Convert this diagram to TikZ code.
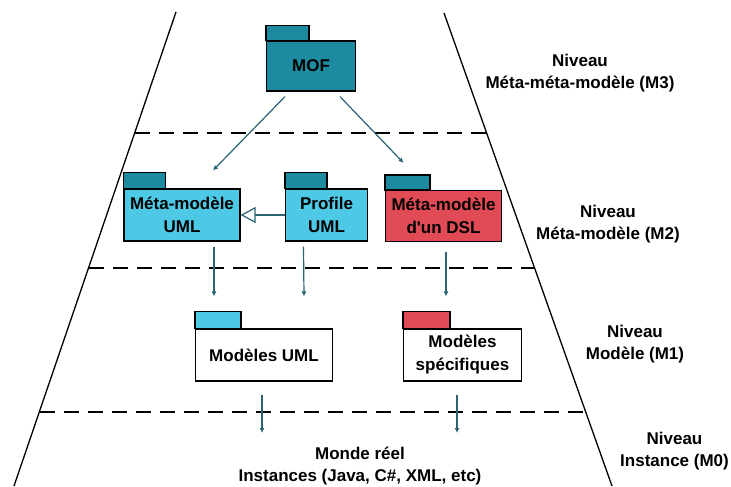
\documentclass[tikz,border=0pt]{standalone}
\usepackage{fontspec}
\setmainfont{Liberation Sans}
\usetikzlibrary{arrows.meta,calc}

\definecolor{mofteal}{HTML}{1E8AA0}
\definecolor{umlcyan}{HTML}{4EC9E5}
\definecolor{dslred}{HTML}{E14B55}
\definecolor{linkteal}{HTML}{2A6373}

\begin{document}
\begin{tikzpicture}[x=1pt,y=-1pt,
    pkg/.style={draw,line width=1.2pt,align=center,inner sep=0pt,
      font=\fontsize{17}{23}\selectfont\bfseries},
    tab/.style={draw,line width=1.2pt},
    level/.style={align=center,font=\fontsize{17}{22}\selectfont\bfseries},
    wall/.style={line width=1.3pt},
    layer/.style={line width=1.3pt,dash pattern=on 15pt off 9pt},
    link/.style={linkteal,line width=1.2pt,
      -{Latex[length=0.1pt,width=0.1pt,line width=0pt,sep=5pt]Latex[length=5pt,width=5pt]}}]
  \useasboundingbox (0,0) rectangle (731,487);

  % pyramid walls and level separators
  \coordinate (tl) at (176,12);
  \coordinate (bl) at (14,486);
  \coordinate (tr) at (444,13);
  \coordinate (br) at (612,486);
  \draw[wall] (tl) -- (bl);
  \draw[wall] (tr) -- (br);
  \draw[layer] (135,133) -- (486,133);
  \draw[layer] (89,268) -- (534,268);
  \draw[layer] (40,412) -- (585,412);

  % packages
  \node[pkg,fill=mofteal,minimum width=89pt,minimum height=50pt] (mof) at (311,66) {MOF};
  \draw[tab,fill=mofteal] (mof.north west) rectangle ++(43,-15);

  \node[pkg,fill=umlcyan,minimum width=116pt,minimum height=52pt] (umlmeta) at (182,215) {Méta-modèle\\UML};
  \draw[tab,fill=mofteal] (umlmeta.north west) rectangle ++(42,-16);

  \node[pkg,fill=umlcyan,minimum width=82pt,minimum height=52pt] (profile) at (326.5,215) {Profile\\UML};
  \draw[tab,fill=mofteal] (profile.north west) rectangle ++(42,-16);

  \node[pkg,fill=dslred,minimum width=116pt,minimum height=51pt] (dslmeta) at (443.5,216) {Méta-modèle\\d\textquotesingle un DSL};
  \draw[tab,fill=mofteal] (dslmeta.north west) rectangle ++(45,-15);

  \node[pkg,fill=white,minimum width=137pt,minimum height=52pt] (umlmod) at (264,355) {Modèles UML};
  \draw[tab,fill=umlcyan] (umlmod.north west) rectangle ++(46,-17);

  \node[pkg,fill=white,minimum width=118pt,minimum height=52pt] (dslmod) at (462.5,355) {Modèles\\spécifiques};
  \draw[tab,fill=dslred] (dslmod.north west) rectangle ++(47,-17);

  % level captions
  \node[level] (m3) at (580,73) {Niveau\\Méta-méta-modèle (M3)};
  \node[level] (m2) at (608,224) {Niveau\\Méta-modèle (M2)};
  \node[level] (m1) at (635,344) {Niveau\\Modèle (M1)};
  \node[level] (m0) at (674.5,451) {Niveau\\Instance (M0)};
  \node[level] (world) at (360,466.5) {Monde réel\\Instances (Java, C\#, XML, etc)};

  % instantiation links
  \draw[link] ($(mof.south)+(-26,5)$) -- ($(umlmeta.north)+(31,-18)$);
  \draw[link] ($(mof.south)+(29,5)$) -- ($(dslmeta.north)+(-40,-27)$);
  \draw[link] ($(umlmeta.south)+(32,5)$) -- ($(umlmod.north)+(-50,-32)$);
  \draw[link] ($(profile.south)+(-23,5)$) -- ($(umlmod.north)+(40,-32)$);
  \draw[link] ($(dslmeta.south)+(2.5,10)$) -- ($(dslmod.north)+(-16.5,-32)$);
  \coordinate (umlreal) at (262,433);
  \coordinate (dslreal) at (457,433);
  \draw[link] ($(umlmod.south)+(-2,13)$) -- (umlreal);
  \draw[link] ($(dslmod.south)+(-5.5,13)$) -- (dslreal);

  % profile extends the UML metamodel
  \draw[linkteal,line width=1.2pt,-{Triangle[open,length=15pt,width=16pt,fill=white]}]
    (profile.west) -- (umlmeta.east);
\end{tikzpicture}
\end{document}
